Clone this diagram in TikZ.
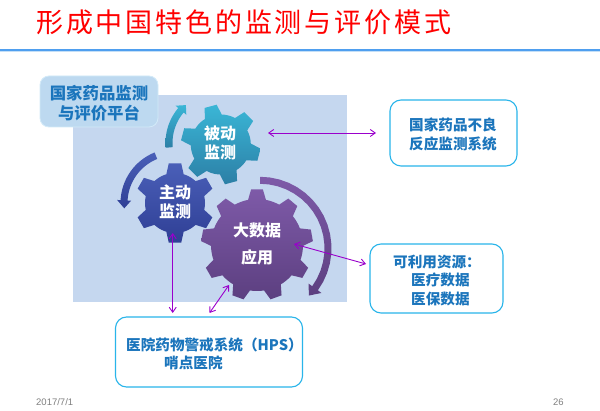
\documentclass[tikz,border=0pt]{standalone}
\usepackage{fontspec}
\usetikzlibrary{arrows.meta}
\setmainfont{Liberation Sans}
\newfontfamily\cjk{Noto Sans CJK SC}
\definecolor{boxline}{HTML}{29B5EA}
\definecolor{boxtext}{HTML}{1B75BC}
\definecolor{linkcol}{HTML}{9A00CC}
\definecolor{panel}{HTML}{C5D7EF}
\definecolor{rulecol}{HTML}{4F9FEF}
\definecolor{ruleshadow}{HTML}{C4DFF7}
\definecolor{platfill}{HTML}{BDD9F0}
\definecolor{platline}{HTML}{D3EAF8}
\definecolor{tealtop}{HTML}{3AB6D6}
\definecolor{tealbot}{HTML}{2C7FA6}
\definecolor{bluetop}{HTML}{4A5FB8}
\definecolor{bluebot}{HTML}{2F3F95}
\definecolor{purptop}{HTML}{7E5AA8}
\definecolor{purpbot}{HTML}{5C3F80}
\tikzset{
  infobox/.style={draw=boxline,line width=1.1pt,fill=white,rounded corners=11pt,inner sep=0pt},
  infotext/.style={font=\cjk\bfseries\fontsize{14.6}{18.6}\selectfont,text=boxtext,inner sep=0pt},
  geartext/.style={font=\cjk\bfseries\fontsize{16}{19.5}\selectfont,text=white,inner sep=0pt,align=center},
  link/.style={draw=linkcol,line width=0.9pt,{Straight Barb[length=5pt,width=7pt]}-{Straight Barb[length=5pt,width=7pt]}},
  foot/.style={font=\fontsize{9.5}{10}\selectfont,text=black!50,inner sep=0pt}
}
% centre x, centre y, outer radius, root radius, teeth, first tooth angle, top colour, bottom colour
\newcommand{\gearshape}[8]{%
  \path[top color=#7,bottom color=#8,draw=none]
    ({#1+#4*cos(#6-0.28*360/#5)},{#2-#4*sin(#6-0.28*360/#5)})
    \foreach \i in {1,...,#5}{
      -- ({#1+#4*cos(#6+(\i-1)*360/#5-0.28*360/#5)},{#2-#4*sin(#6+(\i-1)*360/#5-0.28*360/#5)})
      -- ({#1+#3*cos(#6+(\i-1)*360/#5-0.15*360/#5)},{#2-#3*sin(#6+(\i-1)*360/#5-0.15*360/#5)})
      -- ({#1+#3*cos(#6+(\i-1)*360/#5+0.15*360/#5)},{#2-#3*sin(#6+(\i-1)*360/#5+0.15*360/#5)})
      -- ({#1+#4*cos(#6+(\i-1)*360/#5+0.28*360/#5)},{#2-#4*sin(#6+(\i-1)*360/#5+0.28*360/#5)})
      -- ({#1+#4*cos(#6+(\i-1)*360/#5+0.36*360/#5)},{#2-#4*sin(#6+(\i-1)*360/#5+0.36*360/#5)})
      -- ({#1+#4*cos(#6+(\i-1)*360/#5+0.43*360/#5)},{#2-#4*sin(#6+(\i-1)*360/#5+0.43*360/#5)})
      -- ({#1+#4*cos(#6+(\i-1)*360/#5+0.50*360/#5)},{#2-#4*sin(#6+(\i-1)*360/#5+0.50*360/#5)})
      -- ({#1+#4*cos(#6+(\i-1)*360/#5+0.57*360/#5)},{#2-#4*sin(#6+(\i-1)*360/#5+0.57*360/#5)})
      -- ({#1+#4*cos(#6+(\i-1)*360/#5+0.64*360/#5)},{#2-#4*sin(#6+(\i-1)*360/#5+0.64*360/#5)})
      -- ({#1+#4*cos(#6+(\i-1)*360/#5+0.72*360/#5)},{#2-#4*sin(#6+(\i-1)*360/#5+0.72*360/#5)})
    } -- cycle;
}
% centre x, centre y, radius, half thickness, start, end, head half width, head angle; colours by \acolt, \acolb
\newcommand{\arcbody}[8]{%
  \path[top color=\acolt,bottom color=\acolb,draw=none]
    ({#1+(#3+#4)*cos(#5)},{#2-(#3+#4)*sin(#5)})
    \foreach \k in {1,...,16}{
      -- ({#1+(#3+#4)*cos(#5+(#6-#5)*\k/16)},{#2-(#3+#4)*sin(#5+(#6-#5)*\k/16)})
    }
    -- ({#1+(#3+#7)*cos(#6)},{#2-(#3+#7)*sin(#6)})
    -- ({#1+#3*cos(#6+#8)},{#2-#3*sin(#6+#8)})
    -- ({#1+(#3-#7)*cos(#6)},{#2-(#3-#7)*sin(#6)})
    \foreach \k in {16,15,...,0}{
      -- ({#1+(#3-#4)*cos(#5+(#6-#5)*\k/16)},{#2-(#3-#4)*sin(#5+(#6-#5)*\k/16)})
    } -- cycle;
}
\begin{document}
\begin{tikzpicture}[x=1pt,y=-1pt]
\useasboundingbox (0,0) rectangle (600,411);
\fill[white] (0,0) rectangle (600,411);

% title and rule
\node[font=\cjk\fontsize{27}{30}\selectfont,text=red,inner sep=0pt,anchor=west] (title) at (36,22)
  {\addfontfeatures{LetterSpace=10.5}形成中国特色的监测与评价模式};
\fill[ruleshadow] (0,50) rectangle (600,52);
\fill[rulecol] (0,48.6) rectangle (600,50.6);

% panel
\fill[panel] (73,95) rectangle (347,302);

% platform label
\node[draw=platline,fill=platfill,line width=0.8pt,rounded corners=9pt,
      minimum width=118pt,minimum height=51pt,inner sep=0pt] (platform) at (99,101.5) {};
\node[font=\cjk\bfseries\fontsize{16.4}{20}\selectfont,text=boxtext,align=center,inner sep=0pt] (platformtext) at (99,103)
  {国家药品监测\\与评价平台};

% curved arrows
\def\acolt{tealtop}\def\acolb{tealbot}
\arcbody{220}{143}{51}{3.5}{185}{140}{7}{-8}
\def\acolt{bluetop}\def\acolb{bluebot}
\arcbody{175}{203}{51}{3.5}{112}{177}{7}{9}
\def\acolt{purptop}\def\acolb{purpbot}
\arcbody{260}{248.3}{68}{3.5}{90}{-36}{8}{-8}

% gears
\gearshape{220.8}{144.5}{40}{30}{6}{45}{tealtop}{tealbot}
\gearshape{175}{203}{40}{30}{6}{30}{bluetop}{bluebot}
\gearshape{257}{245}{56}{46}{9}{10}{purptop}{purpbot}

\node[geartext] (passive) at (220,143) {被动\\监测};
\node[geartext] (active) at (175,202) {主动\\监测};
\node[geartext] (bigdata) at (257,230) {大数据};
\node[geartext] (apply) at (257,257) {应用};

% boxes
\node[infobox,minimum width=127pt,minimum height=66pt] (adr) at (453.5,133) {};
\node[infotext,align=center] (adrtext) at (453,134.5) {国家药品不良\\反应监测系统};
\node[infobox,minimum width=133pt,minimum height=69pt] (res) at (436.5,278.5) {};
\node[infotext,align=left,anchor=west] (restext) at (393,280.5)
  {可利用资源：\\\hspace*{18pt}医疗数据\\\hspace*{18pt}医保数据};
\node[infobox,minimum width=187pt,minimum height=70pt] (hps) at (209,352) {};
\node[infotext,align=left,anchor=west] (hpstext) at (126,354)
  {医院药物警戒系统（HPS）\\\hspace*{38pt}哨点医院};

% connectors
\coordinate (a1) at (268,133); \coordinate (a2) at (376,133);
\coordinate (b1) at (172.7,233); \coordinate (b2) at (172.7,313);
\coordinate (c1) at (229,285); \coordinate (c2) at (209.5,313);
\coordinate (d1) at (294,244); \coordinate (d2) at (366,264);
\draw[link] (a1) -- (a2);
\draw[link] (b1) -- (b2);
\draw[link] (c1) -- (c2);
\draw[link] (d1) -- (d2);

% footer
\node[foot,anchor=west] (date) at (36,402.5) {2017/7/1};
\node[foot,anchor=west] (page) at (553,402.5) {26};
\end{tikzpicture}
\end{document}
